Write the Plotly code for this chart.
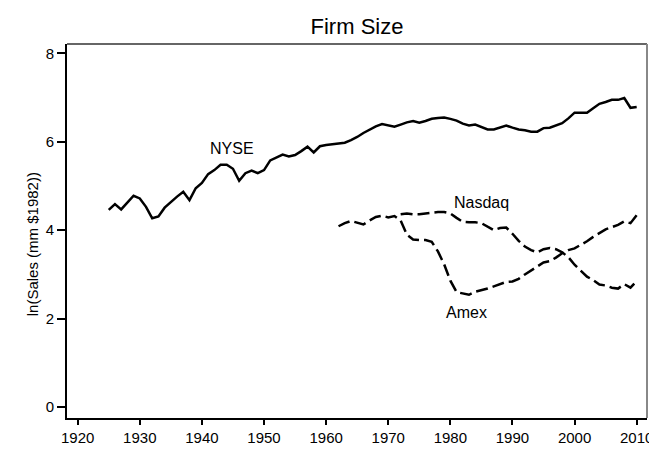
import plotly.graph_objects as go

nyse_years = list(range(1925, 2011))
nyse = [4.46, 4.59, 4.47, 4.63, 4.78, 4.72, 4.53, 4.27, 4.31, 4.51,
        4.64, 4.76, 4.87, 4.68, 4.95, 5.07, 5.27, 5.36, 5.48, 5.48,
        5.39, 5.12, 5.29, 5.35, 5.29, 5.36, 5.58, 5.64, 5.71, 5.67,
        5.70, 5.79, 5.89, 5.76, 5.90, 5.93, 5.95, 5.96, 5.98, 6.04,
        6.11, 6.20, 6.27, 6.35, 6.40, 6.37, 6.34, 6.39, 6.44, 6.47,
        6.43, 6.47, 6.52, 6.54, 6.55, 6.52, 6.48, 6.41, 6.37, 6.39,
        6.33, 6.28, 6.28, 6.33, 6.37, 6.32, 6.28, 6.26, 6.23, 6.23,
        6.31, 6.32, 6.37, 6.42, 6.53, 6.66, 6.66, 6.66, 6.76, 6.86,
        6.90, 6.95, 6.95, 6.99, 6.77, 6.79]

amex_years = list(range(1962, 2011))
amex = [4.09, 4.16, 4.21, 4.17, 4.13, 4.22, 4.30, 4.33, 4.29, 4.32,
        4.22, 3.90, 3.79, 3.78, 3.78, 3.74, 3.52, 3.23, 2.86, 2.60,
        2.57, 2.54, 2.61, 2.64, 2.68, 2.73, 2.78, 2.83, 2.84, 2.90,
        3.00, 3.09, 3.19, 3.27, 3.30, 3.38, 3.48, 3.55, 3.59, 3.67,
        3.75, 3.85, 3.94, 4.02, 4.07, 4.12, 4.20, 4.16, 4.34]

nasdaq_years = list(range(1972, 2011))
nasdaq = [4.36, 4.38, 4.36, 4.36, 4.38, 4.40, 4.41, 4.41, 4.38, 4.28,
          4.19, 4.18, 4.18, 4.16, 4.08, 4.00, 4.05, 4.06, 3.92, 3.76,
          3.63, 3.55, 3.50, 3.57, 3.60, 3.57, 3.50, 3.39, 3.22, 3.09,
          2.95, 2.87, 2.77, 2.75, 2.70, 2.68, 2.78, 2.70, 2.85]

labels = ["NYSE", "Nasdaq", "Amex"]
label_x = [1944.8, 1985.0, 1982.6]
label_y = [5.85, 4.62, 2.14]

x_ticks = list(range(1920, 2011, 10))
y_ticks = [0, 2, 4, 6, 8]

FONT = "Liberation Sans, Arial, sans-serif"

fig = go.Figure()
fig.add_trace(go.Scatter(x=nyse_years, y=nyse, mode="lines",
                         line=dict(color="black", width=2.5), showlegend=False))
fig.add_trace(go.Scatter(x=amex_years, y=amex, mode="lines",
                         line=dict(color="black", width=2.5, dash="12px,5px"), showlegend=False))
fig.add_trace(go.Scatter(x=nasdaq_years, y=nasdaq, mode="lines",
                         line=dict(color="black", width=2.5, dash="12px,5px"), showlegend=False))

for t, xv, yv in zip(labels, label_x, label_y):
    fig.add_annotation(x=xv, y=yv, text=t, showarrow=False,
                       font=dict(size=16, color="black", family=FONT),
                       xanchor="center", yanchor="middle")

fig.add_annotation(xref="paper", yref="paper", x=-0.06, y=0.465,
                   text="ln(Sales (mm $1982))", textangle=-90, showarrow=False,
                   font=dict(size=15, color="black", family=FONT),
                   xanchor="center", yanchor="middle")

# top and right frame (gray)
fig.add_shape(type="line", xref="paper", yref="paper", x0=0, x1=1, y0=1, y1=1,
              line=dict(color="#666666", width=2))
fig.add_shape(type="line", xref="paper", yref="paper", x0=1, x1=1, y0=0, y1=1,
              line=dict(color="#888888", width=2))

fig.update_layout(
    width=657, height=450,
    margin=dict(l=59, r=18, t=36, b=28),
    paper_bgcolor="white", plot_bgcolor="white",
    font=dict(family=FONT, color="black", size=15),
    title=dict(text="Firm Size", x=0.5, xref="paper", xanchor="center",
               y=1 - 18 / 450, yref="container", yanchor="middle",
               font=dict(size=22, color="black", family=FONT)),
    xaxis=dict(range=[1918.28, 2011.66], tickmode="array", tickvals=x_ticks,
               ticks="outside", ticklen=5, tickwidth=1.5, tickcolor="black",
               showline=True, linecolor="black", linewidth=2,
               showgrid=False, zeroline=False,
               tickfont=dict(size=15, color="black", family=FONT)),
    yaxis=dict(range=[-0.248, 8.213], tickmode="array", tickvals=y_ticks,
               ticks="outside", ticklen=8, tickwidth=1.5, tickcolor="black",
               showline=True, linecolor="black", linewidth=2,
               showgrid=False, zeroline=False,
               tickfont=dict(size=15, color="black", family=FONT)),
)

fig.write_html("out.html")
